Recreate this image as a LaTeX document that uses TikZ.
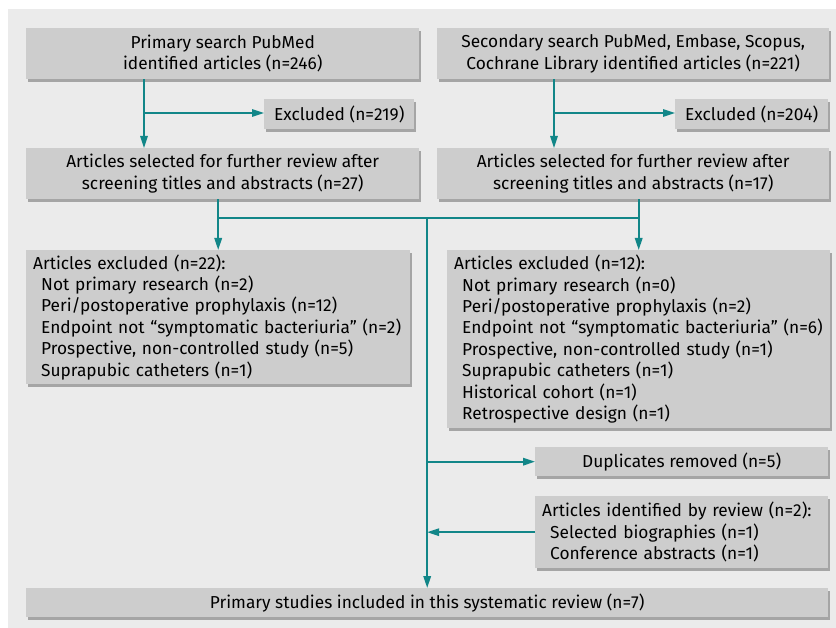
\documentclass[tikz,border=0pt]{standalone}
\usepackage{fontspec}
\setmainfont{Fira Sans}
\usetikzlibrary{arrows.meta, shadows}
\definecolor{panelgrey}{RGB}{235,235,235}
\definecolor{boxgrey}{RGB}{205,205,205}
\definecolor{shadegrey}{RGB}{165,165,165}
\definecolor{flowteal}{RGB}{18,134,136}
\newcommand{\exitem}[1]{\hspace*{8pt}#1}

\tikzset{
  box/.style={fill=boxgrey, anchor=north west, inner sep=0pt, align=center,
    drop shadow={shadow xshift=2pt, shadow yshift=-2.5pt, fill=shadegrey, opacity=1},
    font=\fontsize{17.3}{21.4}\selectfont},
  listbox/.style={box, align=left, inner xsep=7pt},
  flow/.style={draw=flowteal, line width=1.6pt, -{Triangle[length=12pt, width=7.5pt]}},
  trunk/.style={draw=flowteal, line width=1.6pt}
}

\begin{document}
\begin{tikzpicture}[x=1pt, y=-1pt]
\useasboundingbox (0,0) rectangle (836,628);
\fill [panelgrey] (8,9) rectangle (836,628);

\node [box, minimum width=393pt, minimum height=51pt] (prim) at (26,28) {Primary search PubMed\\identified articles (n=246)};
\node [box, minimum width=392pt, minimum height=51pt] (sec) at (437,28) {Secondary search PubMed, Embase, Scopus,\\Cochrane Library identified articles (n=221)};
\node [box, minimum width=150pt, minimum height=30pt] (exc1) at (264,99) {Excluded (n=219)};
\node [box, minimum width=153pt, minimum height=30pt] (exc2) at (675,99) {Excluded (n=204)};
\node [box, minimum width=393pt, minimum height=51pt] (sel1) at (26,148) {Articles selected for further review after\\screening titles and abstracts (n=27)};
\node [box, minimum width=392pt, minimum height=51pt] (sel2) at (437,148) {Articles selected for further review after\\screening titles and abstracts (n=17)};
\node [listbox, text width=370pt, minimum height=134pt] (rej1) at (26,250) {Articles excluded (n=22):\\
  \exitem{Not primary research (n=2)}\\
  \exitem{Peri/postoperative prophylaxis (n=12)}\\
  \exitem{Endpoint not “symptomatic bacteriuria” (n=2)}\\
  \exitem{Prospective, non-controlled study (n=5)}\\
  \exitem{Suprapubic catheters (n=1)}};
\node [listbox, text width=369pt, minimum height=178pt] (rej2) at (447,250) {Articles excluded (n=12):\\
  \exitem{Not primary research (n=0)}\\
  \exitem{Peri/postoperative prophylaxis (n=2)}\\
  \exitem{Endpoint not “symptomatic bacteriuria” (n=6)}\\
  \exitem{Prospective, non-controlled study (n=1)}\\
  \exitem{Suprapubic catheters (n=1)}\\
  \exitem{Historical cohort (n=1)}\\
  \exitem{Retrospective design (n=1)}};
\node [box, minimum width=293pt, minimum height=29pt] (dup) at (535,447) {Duplicates removed (n=5)};
\node [listbox, text width=279pt, minimum height=72pt] (rev) at (535,496) {Articles identified by review (n=2):\\
  \exitem{Selected biographies (n=1)}\\
  \exitem{Conference abstracts (n=1)}};
\node [box, minimum width=802pt, minimum height=29pt] (final) at (26,588) {Primary studies included in this systematic review (n=7)};

\coordinate (pjoin) at (144,113);
\coordinate (sjoin) at (554,113);
\coordinate (merge) at (final.north |- 0,218);

\draw [flow] (prim.south -| pjoin) -- (sel1.north -| pjoin);
\draw [flow] (pjoin) -- (exc1.west |- pjoin);
\draw [flow] (sec.south -| sjoin) -- (sel2.north -| sjoin);
\draw [flow] (sjoin) -- (exc2.west |- sjoin);
\draw [trunk] (sel1.south -| rej1.north) |- (merge) -| (sel2.south -| rej2.north);
\draw [flow] (merge -| rej1.north) -- (rej1.north);
\draw [flow] (merge -| rej2.north) -- (rej2.north);
\draw [flow] (merge) -- (final.north);
\draw [flow] (merge |- dup.west) -- (dup.west);
\draw [flow] (rev.west) -- (merge |- rev.west);
\end{tikzpicture}
\end{document}
